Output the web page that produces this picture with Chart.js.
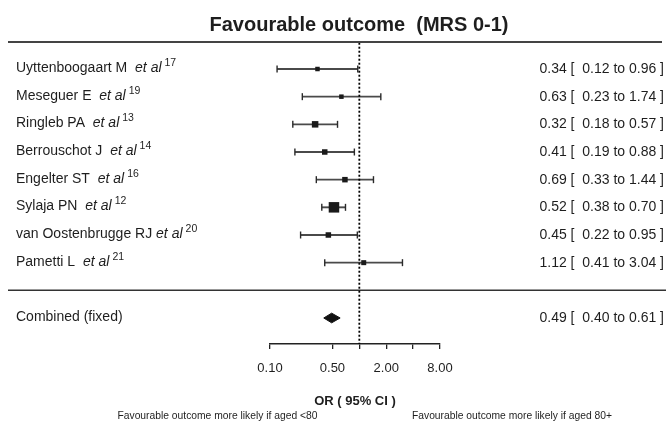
<!DOCTYPE html>
<html><head><meta charset="utf-8">
<script src="https://cdn.jsdelivr.net/npm/chart.js@4/dist/chart.umd.min.js"></script>
<style>html,body{margin:0;padding:0;background:#fff}#wrap{width:667px;height:423px;position:relative}</style>
</head><body><div id="wrap"><canvas id="c" width="667" height="423"></canvas></div>
<script>
// ---- data ----
const titleText = 'Favourable outcome  (MRS 0-1)';
const authors = ['Uyttenboogaart M  ', 'Meseguer E  ', 'Ringleb PA  ', 'Berrouschot J  ', 'Engelter ST  ', 'Sylaja PN  ', 'van Oostenbrugge RJ ', 'Pametti L  '];
const refs = ['17', '19', '13', '14', '16', '12', '20', '21'];
const oddsRatio = [0.34, 0.63, 0.32, 0.41, 0.69, 0.52, 0.45, 1.12];
const ciLow = [0.12, 0.23, 0.18, 0.19, 0.33, 0.38, 0.22, 0.41];
const ciHigh = [0.96, 1.74, 0.57, 0.88, 1.44, 0.70, 0.95, 3.04];
const combinedLabel = 'Combined (fixed)';
const combinedOR = [0.49];
const combinedLow = [0.40];
const combinedHigh = [0.61];
const tickValues = [0.1, 0.5, 1, 2, 4, 8];
const tickLabels = ['0.10', '0.50', '', '2.00', '', '8.00'];
const axisTitle = 'OR ( 95% CI )';
const noteLeft = 'Favourable outcome more likely if aged <80';
const noteRight = 'Favourable outcome more likely if aged 80+';

// ---- style ----
const FONT = '"Liberation Sans", Arial, Helvetica, sans-serif';
const TEXT = '#1e1e1e';
const markerSide = [4.5, 4.5, 6.5, 5.5, 5.5, 10.5, 5.5, 5];
const combinedRow = 9, separatorRow = 8;
const diamondHalf = 0.175;

const fmt = v => v.toFixed(2);

const datasets = [];
// squares (top-most)
datasets.push({
  data: oddsRatio.map((v, i) => ({x: v, y: i})),
  pointStyle: 'rect',
  pointRadius: markerSide.map(s => s / Math.SQRT2),
  pointBackgroundColor: '#1a1a1a',
  pointBorderWidth: 0,
  showLine: false
});
// combined diamond
datasets.push({
  data: [
    {x: combinedLow[0], y: combinedRow},
    {x: combinedOR[0], y: combinedRow - diamondHalf},
    {x: combinedHigh[0], y: combinedRow},
    {x: combinedOR[0], y: combinedRow + diamondHalf},
    {x: combinedLow[0], y: combinedRow}
  ],
  showLine: true, fill: 'shape', backgroundColor: '#111', borderColor: '#111',
  borderWidth: 1, pointRadius: 0, tension: 0
});
// line of no effect
datasets.push({
  data: [{x: 1, y: -0.95}, {x: 1, y: 10}],
  showLine: true, borderColor: '#000', borderWidth: 1.8, borderDash: [2, 2],
  pointRadius: 0
});
// CI lines with caps
oddsRatio.forEach((v, i) => {
  datasets.push({
    data: [{x: ciLow[i], y: i}, {x: ciHigh[i], y: i}],
    showLine: true, borderColor: '#4a4a4a', borderWidth: 1.9,
    pointStyle: 'line', pointRotation: 90, pointRadius: 3.5,
    pointBorderColor: '#2a2a2a', pointBorderWidth: 1.4, pointBackgroundColor: '#2a2a2a'
  });
});

const textPlugin = {
  id: 'forestText',
  beforeDatasetsDraw(chart) {
    const ctx = chart.ctx, ys = chart.scales.y, area = chart.chartArea;
    ctx.save();
    ctx.strokeStyle = '#444';
    ctx.lineWidth = 2;
    ctx.beginPath(); ctx.moveTo(8, area.top - 1); ctx.lineTo(662, area.top - 1); ctx.stroke();
    ctx.strokeStyle = '#333';
    ctx.lineWidth = 1.5;
    const sy = ys.getPixelForValue(separatorRow);
    ctx.beginPath(); ctx.moveTo(8, sy); ctx.lineTo(666, sy); ctx.stroke();
    ctx.restore();
  },
  afterDraw(chart) {
    const ctx = chart.ctx, ys = chart.scales.y;
    ctx.save();
    ctx.fillStyle = TEXT;
    ctx.textBaseline = 'middle';
    // title
    ctx.textAlign = 'center';
    ctx.font = 'bold 20px ' + FONT;
    ctx.fillText(titleText, 359, 25);
    // left labels
    ctx.textAlign = 'left';
    authors.forEach((a, i) => {
      const y = ys.getPixelForValue(i) - 1;
      let x = 16;
      ctx.font = '14px ' + FONT;
      ctx.fillText(a, x, y);
      x += ctx.measureText(a).width;
      ctx.font = 'italic 14px ' + FONT;
      ctx.fillText('et al', x, y);
      x += ctx.measureText('et al').width + 3;
      ctx.font = '10.5px ' + FONT;
      ctx.fillText(refs[i], x, y - 5);
    });
    ctx.font = '14px ' + FONT;
    ctx.fillText(combinedLabel, 16, ys.getPixelForValue(combinedRow) - 1);
    // right values
    ctx.textAlign = 'right';
    oddsRatio.forEach((v, i) => {
      ctx.fillText(fmt(v) + ' [  ' + fmt(ciLow[i]) + ' to ' + fmt(ciHigh[i]) + ' ]', 664, ys.getPixelForValue(i));
    });
    ctx.fillText(fmt(combinedOR[0]) + ' [  ' + fmt(combinedLow[0]) + ' to ' + fmt(combinedHigh[0]) + ' ]', 664, ys.getPixelForValue(combinedRow));
    // notes
    ctx.textAlign = 'center';
    ctx.font = '10.3px ' + FONT;
    ctx.fillText(noteLeft, 217.5, 416);
    ctx.fillText(noteRight, 512, 416);
    ctx.restore();
  }
};

new Chart(document.getElementById('c'), {
  type: 'scatter',
  data: {datasets},
  options: {
    responsive: false,
    animation: false,
    events: [],
    layout: {padding: {left: 270, right: 227, top: 43, bottom: 0}},
    plugins: {legend: {display: false}, tooltip: {enabled: false}, title: {display: false}},
    scales: {
      x: {
        type: 'logarithmic', min: 0.1, max: 8,
        afterBuildTicks: s => { s.ticks = tickValues.map(v => ({value: v})); },
        afterFit: s => { s.height = 79; },
        grid: {display: true, drawOnChartArea: false, drawTicks: true, tickLength: 5, color: '#222', lineWidth: 1.3},
        border: {display: true, color: '#222', width: 1.5},
        ticks: {
          autoSkip: false, maxRotation: 0, padding: 12, color: TEXT,
          font: {family: FONT, size: 13},
          callback: (v, i) => tickLabels[i]
        },
        title: {display: true, text: axisTitle, color: TEXT, font: {family: FONT, size: 13, weight: 'bold'}, padding: {top: 0, bottom: 14}}
      },
      y: {
        type: 'linear', min: -0.94, max: 9.94, reverse: true, display: false
      }
    }
  },
  plugins: [textPlugin]
});
</script>
</body></html>
